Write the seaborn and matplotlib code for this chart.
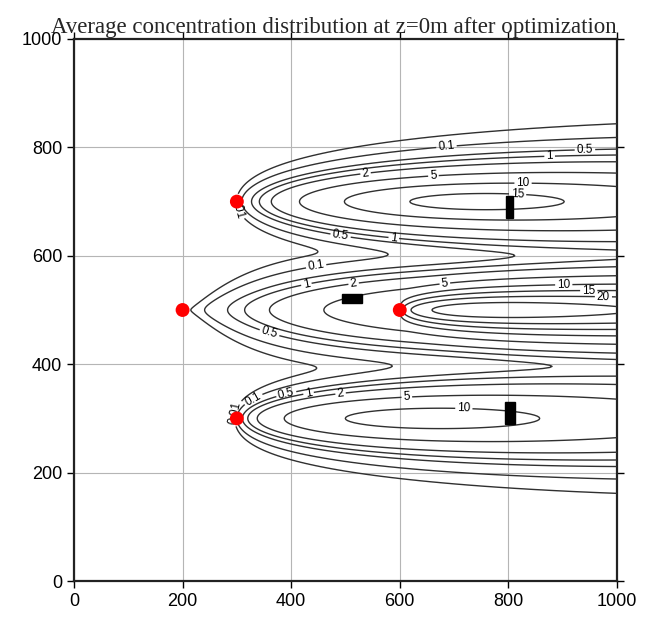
import numpy as np
import pandas as pd
import matplotlib
matplotlib.use("Agg")
import matplotlib.pyplot as plt
import seaborn as sns
from matplotlib.patches import Rectangle

# emission points (red dots) and the plume shape of each one
src_x = [300, 200, 600, 300]
src_y = [700, 500, 500, 300]
src_q = [29.8, 26.9, 32.4, 29.9]
src_p = [2.04, 2.4, 0.5, 1.445]
src_l = [221, 400, 200, 245]
src_off = [5, 0, 0, 5]  # small upstream spread behind the source

# lateral spread: sigma_y = a * dx^b * (1 - exp(-dx / l))
sig_a = [5.3, 13.2, 5.3, 5.3]
sig_b = [0.3, 0.15, 0.3, 0.3]
sig_l = [1, 70, 1, 1]

# buildings (black blocks)
bld_x = [795, 493, 793]
bld_y = [670, 513, 290]
bld_w = [13, 38, 19]
bld_h = [40, 17, 40]

levels = [0.01, 0.1, 0.5, 1, 2, 5, 10, 15, 20, 25]

sns.set_style("ticks")
plt.rcParams["font.family"] = ["Liberation Sans", "DejaVu Sans"]

# ground level concentration field
xg = np.linspace(0, 1000, 501)
yg = np.linspace(0, 1000, 501)
X, Y = np.meshgrid(xg, yg)
C = np.zeros_like(X)
for i in range(len(src_x)):
    dx = X - src_x[i] + src_off[i]
    d = np.clip(dx, 1e-6, None)
    sy = sig_a[i] * d ** sig_b[i] * (1 - np.exp(-d / sig_l[i]))
    sy = np.clip(sy, 1e-3, None)
    c = src_q[i] * (d / src_l[i]) ** src_p[i] * np.exp(-d / src_l[i])
    c = c * np.exp(-(Y - src_y[i]) ** 2 / (2 * sy ** 2))
    C += np.where(dx > 0, c, 0.0)


def crossing(vals, grid, level, near):
    v = vals - level
    idx = np.where(np.sign(v[:-1]) != np.sign(v[1:]))[0]
    if len(idx) == 0:
        return near
    pos = grid[idx] + (grid[idx + 1] - grid[idx]) * v[idx] / (v[idx] - v[idx + 1])
    return pos[np.argmin(np.abs(pos - near))]


def on_level(level, x, y, along):
    # point of the given contour level next to (x, y), searched along a column or a row
    if along == "v":
        return (x, crossing(C[:, np.argmin(np.abs(xg - x))], yg, level, y))
    return (crossing(C[np.argmin(np.abs(yg - y)), :], xg, level, x), y)


# (level, x, y, search direction) of the labels
label_spec = [
    (0.1, 686, 803, "v"), (0.5, 941, 793, "v"), (1, 876, 779, "v"), (2, 537, 740, "v"),
    (5, 662, 740, "v"), (10, 827, 729, "v"), (15, 817, 707, "v"), (0.5, 491, 642, "v"),
    (1, 589, 638, "v"), (0.01, 295, 690, "h"),
    (0.1, 446, 578, "v"), (1, 428, 537, "v"), (2, 515, 542, "v"), (0.5, 360, 467, "v"),
    (5, 683, 550, "v"), (10, 902, 553, "v"), (15, 948, 546, "v"), (20, 975, 539, "v"),
    (0.01, 295, 310, "h"), (0.1, 330, 330, "v"), (0.5, 391, 334, "v"), (1, 432, 332, "v"),
    (2, 491, 334, "v"), (5, 613, 330, "v"), (10, 718, 314, "v"),
]

fig = plt.figure(figsize=(6.5, 6.21), dpi=100)
ax = fig.add_axes([0.1138, 0.0644, 0.8354, 0.8728])

cs = ax.contour(X, Y, C, levels=levels, colors="#303030", linewidths=1.0, zorder=3)
ax.clabel(cs, manual=[on_level(*s) for s in label_spec], fmt=lambda v: f"{v:g}",
          fontsize=8.5, inline=True, inline_spacing=2, colors="black")

for bx, by, bw, bh in zip(bld_x, bld_y, bld_w, bld_h):
    ax.add_patch(Rectangle((bx, by), bw, bh, facecolor="black", edgecolor="black", zorder=4))

pts = pd.DataFrame({"x": src_x, "y": src_y})
sns.scatterplot(data=pts, x="x", y="y", color="red", s=100, edgecolor="none",
                zorder=6, ax=ax, legend=False)

ax.set_xlim(0, 1000)
ax.set_ylim(0, 1000)
ax.set_xticks(range(0, 1001, 200))
ax.set_yticks(range(0, 1001, 200))
ax.set_xlabel("")
ax.set_ylabel("")
ax.grid(True, color="#b5b5b5", linewidth=0.8)
ax.set_axisbelow(True)
ax.tick_params(direction="out", length=5, width=1, top=True, right=True,
               labeltop=False, labelright=False, labelsize=13, colors="black")
for sp in ax.spines.values():
    sp.set_visible(True)
    sp.set_linewidth(1.6)
    sp.set_color("#222222")

ax.set_title("Average concentration distribution at z=0m after optimization",
             family=["Liberation Serif", "DejaVu Serif"], fontsize=16.5, pad=4, x=0.478)

fig.savefig("out.png", dpi=100)
